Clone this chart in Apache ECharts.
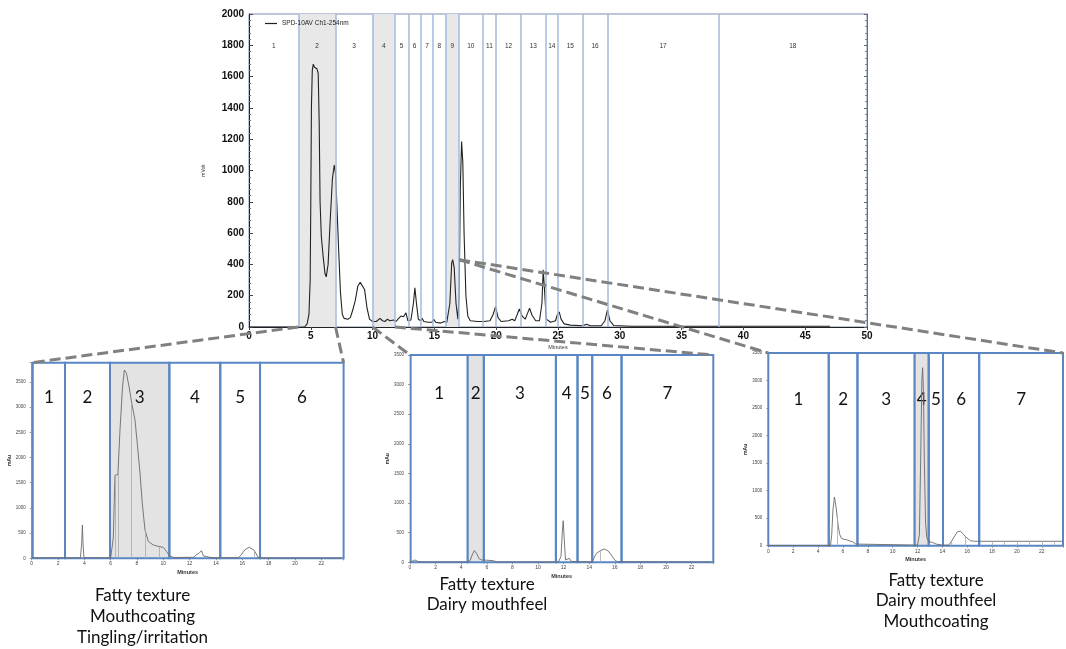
<!DOCTYPE html>
<html><head><meta charset="utf-8">
<script src="https://cdn.jsdelivr.net/npm/echarts@6/dist/echarts.min.js"></script>
<style>html,body{margin:0;padding:0;background:#fff}#c{width:1066px;height:649px}</style>
</head><body><div id="c"></div>
<script>
// ---------- DATA ----------
const mainTime = [0,4.5,4.7,4.85,4.95,5.0,5.05,5.12,5.2,5.3,5.4,5.5,5.6,5.68,5.75,5.85,6.0,6.15,6.25,6.4,6.55,6.75,6.9,7.0,7.1,7.25,7.4,7.55,7.7,8.0,8.2,8.4,8.6,8.8,9.0,9.15,9.35,9.55,9.75,10.0,10.3,10.6,10.8,11.0,11.2,11.4,11.7,11.9,12.1,12.3,12.5,12.7,12.85,13.1,13.3,13.42,13.55,13.7,13.9,14.0,14.15,14.5,14.8,14.95,15.1,15.5,15.8,16.0,16.1,16.25,16.4,16.48,16.6,16.75,16.9,17.0,17.1,17.2,17.3,17.4,17.55,17.7,17.9,18.5,19.0,19.5,19.75,19.95,20.15,20.4,21.0,21.3,21.5,21.7,21.87,22.1,22.35,22.55,22.7,22.9,23.2,23.5,23.7,23.8,23.9,24.05,24.4,24.8,24.95,25.1,25.25,25.5,26.0,27.0,27.3,27.6,28.5,28.8,29.0,29.2,29.5,31,35,40,47];
const mainSignal = [0,0,20,80,300,800,1400,1640,1680,1660,1665,1650,1620,1300,800,580,450,340,320,400,650,950,1035,980,800,500,220,80,55,50,60,110,170,260,285,290,240,120,50,35,35,55,40,35,50,40,45,35,55,70,65,90,40,45,150,250,150,50,40,55,35,30,30,50,30,25,35,30,40,150,410,430,380,150,50,200,900,1185,1050,600,200,70,40,35,35,40,80,130,60,35,40,50,40,80,115,70,50,90,120,75,40,40,150,365,250,50,30,40,80,96,50,20,12,8,18,8,8,40,110,40,10,5,5,5,5];
const mainRegionEdges = [0,4,7,10,11.8,12.9,13.9,14.9,15.9,17,18.9,20,22,24,25,27,29,38,50];
const mainRegionLabels = ['1','2','3','4','5','6','7','8','9','10','11','12','13','14','15','16','17','18'];
const mainShaded = ['2','4','9'];
const mainSeriesName = 'SPD-10AV Ch1-254nm';

const inset1Time = [0,3.7,3.8,3.85,3.9,3.97,6.0,6.2,6.33,6.55,6.7,6.9,7.04,7.2,7.4,7.6,7.85,8.05,8.23,8.4,8.61,8.87,9.24,9.5,9.75,10.0,10.26,10.5,10.8,12.3,12.5,12.75,12.9,13.05,13.3,13.5,14.0,15.7,15.9,16.2,16.53,16.9,17.2,17.5,23.5];
const inset1Signal = [10,10,300,660,300,10,10,400,1650,1660,2500,3400,3735,3670,3400,3080,2740,2200,1690,1100,560,330,265,245,230,218,130,45,15,20,66,110,152,46,35,20,10,10,60,170,218,160,20,8,5];
const inset1Edges = [0.08,2.53,5.95,10.46,14.33,17.35,23.7];
const inset1Labels = ['1','2','3','4','5','6'];
const inset1Shaded = ['3'];
const inset1DropTime = [6.33,6.58,7.6,8.61,9.7,16.9];
const inset1DropValue = [1650,1700,3080,560,232,160];

const inset2Time = [0,0.2,0.39,0.6,1.0,4.5,4.7,4.85,5.03,5.2,5.4,5.6,6.0,6.5,6.8,11.6,11.8,11.9,11.97,12.05,12.15,12.3,12.45,12.6,14.2,14.35,14.56,14.9,15.18,15.5,15.8,16.0,16.2,23.5];
const inset2Signal = [10,20,40,15,5,5,30,120,197,150,60,40,35,28,5,5,100,500,702,400,40,20,67,15,5,60,150,200,225,190,100,40,10,5];
const inset2Edges = [0.05,4.51,5.77,11.4,13.09,14.24,16.53,23.73];
const inset2Labels = ['1','2','3','4','5','6','7'];
const inset2Shaded = ['2'];
const inset2DropTime = [14.9];
const inset2DropValue = [200];

const inset3Time = [0,5.0,5.1,5.2,5.32,5.45,5.63,5.75,5.89,6.1,6.27,6.5,6.78,7.04,7.2,12.0,12.15,12.25,12.35,12.41,12.48,12.55,12.65,12.75,12.9,13.2,13.5,14.0,14.5,14.7,15.0,15.2,15.43,15.65,15.87,16.25,16.6,17.0,23.7];
const inset3Signal = [5,5,200,650,885,700,343,200,132,115,110,90,72,30,5,10,200,1500,3000,3233,2800,1500,400,150,70,60,30,10,10,70,180,250,265,220,162,90,80,80,80];
const inset3Edges = [0,4.86,7.17,11.77,12.9,14.05,16.96,23.7];
const inset3Labels = ['1','2','3','4','5','6','7'];
const inset3Shaded = ['4'];
const inset3DropTime = [5.55,14.7,15.87,18,19,20,21,22,23];
const inset3DropValue = [520,70,162,80,80,80,80,80,80];

const inset1Caption = ['Fatty texture','Mouthcoating','Tingling/irritation'];
const inset2Caption = ['Fatty texture','Dairy mouthfeel'];
const inset3Caption = ['Fatty texture','Dairy mouthfeel','Mouthcoating'];

// ---------- BUILD ----------
function pairs(t, v){ return t.map((x,i)=>[x, v[i]]); }
function areas(edges, labels, shaded, shadeColor, border, bw, lab){
  return labels.map((l,i)=>[
    {xAxis: edges[i], name: l,
     itemStyle: {color: shaded.indexOf(l)>=0 ? shadeColor : 'rgba(0,0,0,0)', borderColor: border, borderWidth: bw},
     label: lab},
    {xAxis: edges[i+1]}
  ]);
}
function drops(t, v){ return t.map((x,i)=>[{coord:[x,0]},{coord:[x,v[i]]}]); }

const chart = echarts.init(document.getElementById('c'), null, {renderer:'canvas'});
const F = 'Liberation Sans, Arial, sans-serif';
const insetLabel = d => ({show:true, position:'insideTop', distance:d, fontFamily:'Lato', fontSize:17, color:'#111'});

function insetX(g){
  return {gridIndex:g, type:'value', min:0, max:23.7, interval:2,
    axisLine:{show:true, lineStyle:{color:'#999', width:1}},
    axisTick:{show:true, length:2, lineStyle:{color:'#999'}},
    axisLabel:{fontSize:5, color:'#444', margin:3, fontFamily:F,
      formatter: v => (Math.abs(v - Math.round(v)) < 1e-6 && Math.round(v) % 2 === 0) ? String(Math.round(v)) : ''},
    splitLine:{show:false},
    name:'Minutes', nameLocation:'middle', nameGap:11,
    nameTextStyle:{fontSize:5.5, fontWeight:'bold', color:'#333', fontFamily:F}};
}
function insetY(g, max, gap){
  return {gridIndex:g, type:'value', min:0, max:max, interval:500,
    axisLine:{show:true, lineStyle:{color:'#999'}},
    axisTick:{show:true, length:2, lineStyle:{color:'#999'}},
    axisLabel:{fontSize:4.5, color:'#444', margin:6, fontFamily:F,
      formatter: v => (v % 500 === 0) ? String(v) : ''},
    splitLine:{show:false},
    name:'mAu', nameLocation:'middle', nameGap:gap,
    nameTextStyle:{fontSize:5, fontWeight:'bold', color:'#333', fontFamily:F}};
}
function insetSeries(xi, t, v, edges, labels, shaded, labDist, dt, dv){
  return {type:'line', xAxisIndex:xi, yAxisIndex:xi+1, data:pairs(t,v), symbol:'none',
    lineStyle:{color:'#6a6a6a', width:0.9}, itemStyle:{color:'#6a6a6a'}, z:3,
    markArea:{silent:true, data:areas(edges, labels, shaded, '#e3e3e3', '#5a86c4', 2, insetLabel(labDist))},
    markLine:{silent:true, symbol:['none','none'], label:{show:false},
      lineStyle:{color:'#a8a8a8', width:0.8, type:'solid'}, data:drops(dt, dv)}};
}

const option = {
  animation:false,
  backgroundColor:'#fff',
  legend:{data:[mainSeriesName], left:260, top:15, icon:'rect', itemWidth:12, itemHeight:1.2, z:20, zlevel:1,
    itemGap:5, textStyle:{fontSize:6.5, color:'#222', fontFamily:F}},
  grid:[
    {left:249, top:14, width:618, height:313, show:true, borderColor:'#7d8fb2', borderWidth:1, backgroundColor:'rgba(0,0,0,0)'},
    {left:31.7, top:362.7, width:311.9, height:195.6},
    {left:410, top:355, width:303.3, height:207.3},
    {left:768.3, top:353, width:308.8, height:192.7}
  ],
  xAxis:[
    {gridIndex:0, type:'value', min:0, max:50, interval:5,
      axisLine:{lineStyle:{color:'#222', width:1}}, axisTick:{show:true, length:3, lineStyle:{color:'#444'}},
      axisLabel:{fontSize:10, fontWeight:'bold', color:'#111', margin:4, fontFamily:F, formatter: v => String(v)},
      splitLine:{show:false},
      name:'Minutes', nameLocation:'middle', nameGap:17, nameTextStyle:{fontSize:5.5, color:'#333', fontFamily:F}},
    insetX(1), insetX(2), insetX(3)
  ],
  yAxis:[
    {gridIndex:0, type:'value', min:0, max:2000, interval:200,
      axisLine:{show:true, lineStyle:{color:'#222', width:1}},
      axisTick:{show:true, inside:true, length:4, lineStyle:{color:'#444'}},
      minorTick:{show:true, splitNumber:5, length:2, lineStyle:{color:'#777'}},
      axisLabel:{fontSize:10, fontWeight:'bold', color:'#111', margin:5, fontFamily:F, formatter: v => String(v)},
      splitLine:{show:false},
      name:'mVolt', nameLocation:'middle', nameGap:43, nameTextStyle:{fontSize:5, color:'#333', fontFamily:F}},
    {gridIndex:0, type:'value', min:0, max:2000, interval:200, position:'right',
      axisLine:{show:true, lineStyle:{color:'#5f6f90', width:1}},
      axisTick:{show:true, inside:true, length:3, lineStyle:{color:'#667'}},
      minorTick:{show:true, splitNumber:5, length:2, lineStyle:{color:'#889'}},
      axisLabel:{show:false}, splitLine:{show:false}},
    insetY(1, 3880, 19), insetY(2, 3500, 18), insetY(3, 3500, 20)
  ],
  series:[
    {name:mainSeriesName, type:'line', xAxisIndex:0, yAxisIndex:0, data:pairs(mainTime, mainSignal),
      symbol:'none', lineStyle:{color:'#222', width:1.1}, itemStyle:{color:'#222'}, z:3,
      markArea:{silent:true, data:areas(mainRegionEdges, mainRegionLabels, mainShaded, '#e8e8e8', 'rgba(0,0,0,0)', 0,
        {show:true, position:'insideTop', distance:29, fontSize:6.5, color:'#333', fontFamily:F})},
      markLine:{silent:true, symbol:['none','none'], label:{show:false},
        lineStyle:{color:'#a3bbdc', width:1.5, type:'solid'},
        data:mainRegionEdges.slice(1,-1).map(e=>({xAxis:e}))}},
    insetSeries(1, inset1Time, inset1Signal, inset1Edges, inset1Labels, inset1Shaded, 27, inset1DropTime, inset1DropValue),
    insetSeries(2, inset2Time, inset2Signal, inset2Edges, inset2Labels, inset2Shaded, 31, inset2DropTime, inset2DropValue),
    insetSeries(3, inset3Time, inset3Signal, inset3Edges, inset3Labels, inset3Shaded, 39, inset3DropTime, inset3DropValue)
  ]
};
chart.setOption(option);

// ---------- connectors & captions (positions derived from the axes) ----------
const px = (g, p) => chart.convertToPixel({gridIndex:g}, p);
const links = [
  [px(0,[4,0]), px(1,[0,3880])],
  [px(0,[7,0]), px(1,[23.7,3880])],
  [px(0,[10,0]), px(2,[0,3500])],
  [px(0,[11.8,0]), px(2,[23.7,3500])],
  [px(0,[17,430]), px(3,[0,3500])],
  [px(0,[17,430]), px(3,[23.7,3500])]
];
const graphics = links.map((l,i)=>({type:'line', id:'lk'+i, z:100,
  shape:{x1:l[0][0], y1:l[0][1], x2:l[1][0], y2:l[1][1]},
  style:{stroke:'#808080', lineWidth:3, lineDash:[11,5]}}));
const caps = [[inset1Caption, 142.5, 585.5, 21],[inset2Caption, 487, 575, 20],[inset3Caption, 936, 569.8, 20.5]];
caps.forEach((c,i)=>graphics.push({type:'text', id:'cap'+i, z:100,
  style:{text:c[0].join('\n'), x:c[1], y:c[2], textAlign:'center', textVerticalAlign:'top',
    fontFamily:'Lato', fontSize:17, lineHeight:c[3], fill:'#111'}}));
chart.setOption({graphic:graphics});
</script>
</body></html>
